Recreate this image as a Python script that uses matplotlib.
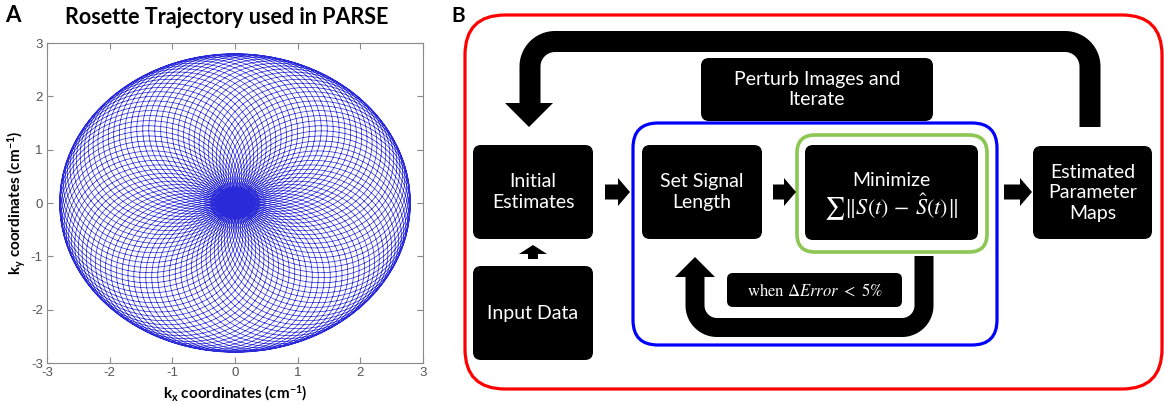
import numpy as np
import matplotlib
matplotlib.use('Agg')
import matplotlib.pyplot as plt
from matplotlib.patches import FancyBboxPatch, Polygon

plt.rcParams['font.family'] = ['Lato', 'DejaVu Sans']
plt.rcParams['mathtext.fontset'] = 'custom'
plt.rcParams['mathtext.rm'] = 'Lato'
plt.rcParams['mathtext.bf'] = 'Lato:bold'
plt.rcParams['mathtext.it'] = 'Lato:italic'
plt.rcParams['axes.unicode_minus'] = False

# ---- panel A: rosette trajectory parameters ----
k_max = 2.8                    # cm^-1, outer radius of the rosette
n_petals = 91
petal_shift = 2.0 / n_petals   # extra rotation per petal
samples_per_petal = 160
axis_ticks = [-3, -2, -1, 0, 1, 2, 3]

# ---- panel B: flowchart ----
box_names = ['Initial\nEstimates', 'Set Signal\nLength', 'Minimize',
             'Estimated\nParameter\nMaps', 'Input Data', 'Perturb Images and\nIterate']
# layout in pixels (x0, y0, x1, y1), y pointing down
box_px = [(473, 145, 593, 239), (642, 145, 762, 239), (805, 145, 978, 240),
          (1033, 146, 1152, 239), (473, 266, 593, 360), (701, 58, 933, 121)]
cond_text = r'$\mathrm{when}\ \Delta Error\ <\ 5\%$'
cost_text = r'$\sum\Vert S(t)\,-\,\hat{S}(t)\Vert$'

fig = plt.figure(figsize=(11.64, 4.05), dpi=100)

# panel A
ax = fig.add_axes([47 / 1164, 42 / 405, 376 / 1164, 320 / 405])
t = np.linspace(0, n_petals * np.pi, n_petals * samples_per_petal + 1)
r = k_max * np.sin(t)
ang = (1 + petal_shift) * t
ax.plot(r * np.cos(ang), r * np.sin(ang), color='#2a2ad8', lw=0.5)
ax.set_xlim(-3, 3)
ax.set_ylim(-3, 3)
ax.set_xticks(axis_ticks)
ax.set_yticks(axis_ticks)
for s in ax.spines.values():
    s.set_color('#8a8a8a')
    s.set_linewidth(0.8)
ax.tick_params(direction='in', top=True, right=True, length=4, width=0.8,
               color='#8a8a8a', labelcolor='#555555', labelsize=9.5, pad=3)
for lab in ax.get_xticklabels() + ax.get_yticklabels():
    lab.set_family('Liberation Sans')
ax.set_xlabel(r'k$_\mathbf{x}$ coordinates (cm$^\mathbf{-1}$)', fontsize=11,
              fontweight='bold', labelpad=3)
ax.set_ylabel(r'k$_\mathbf{y}$ coordinates (cm$^\mathbf{-1}$)', fontsize=11,
              fontweight='bold', labelpad=2)
fig.text(13 / 1164, 1 - 15 / 405, 'A', fontsize=16, fontweight='bold', ha='center', va='center')
fig.text(227 / 1164, 1 - 17 / 405, 'Rosette Trajectory used in PARSE', fontsize=15.5,
         fontweight='bold', ha='center', va='center')

# panel B (pixel coordinates)
bx = fig.add_axes([450 / 1164, 0, 714 / 1164, 1])
bx.set_xlim(450, 1164)
bx.set_ylim(405, 0)
bx.axis('off')
bx.patch.set_alpha(0)


def rbox(x0, y0, x1, y1, rad, **kw):
    p = FancyBboxPatch((x0, y0), x1 - x0, y1 - y0,
                       boxstyle=f'round,pad=0,rounding_size={rad}', **kw)
    bx.add_patch(p)


def arc(cx, cy, rad, a0, a1):
    a = np.linspace(a0, a1, 20)
    return list(zip(cx + rad * np.cos(a), cy + rad * np.sin(a)))


rbox(465, 15, 1162, 389, 40, fc='none', ec='#ff0000', lw=2.3)
rbox(633, 123, 997, 345, 25, fc='none', ec='#0000ff', lw=2.3)
rbox(797, 135, 987, 252, 18, fc='none', ec='#8cc653', lw=2.6)

for (x0, y0, x1, y1) in box_px:
    rbox(x0, y0, x1, y1, 8, fc='black', ec='none')
rbox(727, 273, 902, 307, 6, fc='black', ec='none')

for name, (x0, y0, x1, y1) in zip(box_names, box_px):
    cx, cy = (x0 + x1) / 2, (y0 + y1) / 2
    if name == 'Minimize':
        bx.text(cx, 180, name, color='white', fontsize=14, ha='center', va='center')
        bx.text(cx, 207, cost_text, color='white', fontsize=16, ha='center', va='center',
                math_fontfamily='stix')
    else:
        bx.text(cx, cy, name, color='white', fontsize=14, ha='center', va='center',
                linespacing=1.25)
bx.text(814.5, 290, cond_text, color='white', fontsize=12, ha='center', va='center',
        math_fontfamily='stix')

# top feedback loop
R, yb = 25, 41.5
pts = [(1090, 127)] + arc(1090 - R, yb + R, R, 0, -np.pi / 2) + \
      arc(530 + R, yb + R, R, -np.pi / 2, -np.pi) + [(530, 104)]
xs, ys = zip(*pts)
bx.plot(xs, ys, color='black', lw=21 * 0.72, solid_capstyle='butt', solid_joinstyle='miter')
bx.add_patch(Polygon([(505, 103), (553, 103), (529, 127)], closed=True, fc='black', ec='none'))

# inner loop
R2, yb2 = 22, 327.5
pts = [(924, 256)] + arc(924 - R2, yb2 - R2, R2, 0, np.pi / 2) + \
      arc(695 + R2, yb2 - R2, R2, np.pi / 2, np.pi) + [(695, 277)]
xs, ys = zip(*pts)
bx.plot(xs, ys, color='black', lw=19 * 0.72, solid_capstyle='butt', solid_joinstyle='miter')
bx.add_patch(Polygon([(675, 277), (715, 277), (695, 257)], closed=True, fc='black', ec='none'))

# forward arrows
for x0, x1 in [(605, 630), (773, 796), (1004, 1032)]:
    yc = 192
    bx.add_patch(Polygon([(x0, yc - 7.5), (x1 - 12, yc - 7.5), (x1 - 12, yc - 14), (x1, yc),
                          (x1 - 12, yc + 14), (x1 - 12, yc + 7.5), (x0, yc + 7.5)],
                         closed=True, fc='black', ec='none'))
bx.add_patch(Polygon([(528, 259), (528, 254), (519, 254), (533, 245), (547, 254),
                      (538, 254), (538, 259)], closed=True, fc='black', ec='none'))

fig.text(458 / 1164, 1 - 16 / 405, 'B', fontsize=15, fontweight='bold', ha='center', va='center')

fig.savefig('out.png', dpi=100)
